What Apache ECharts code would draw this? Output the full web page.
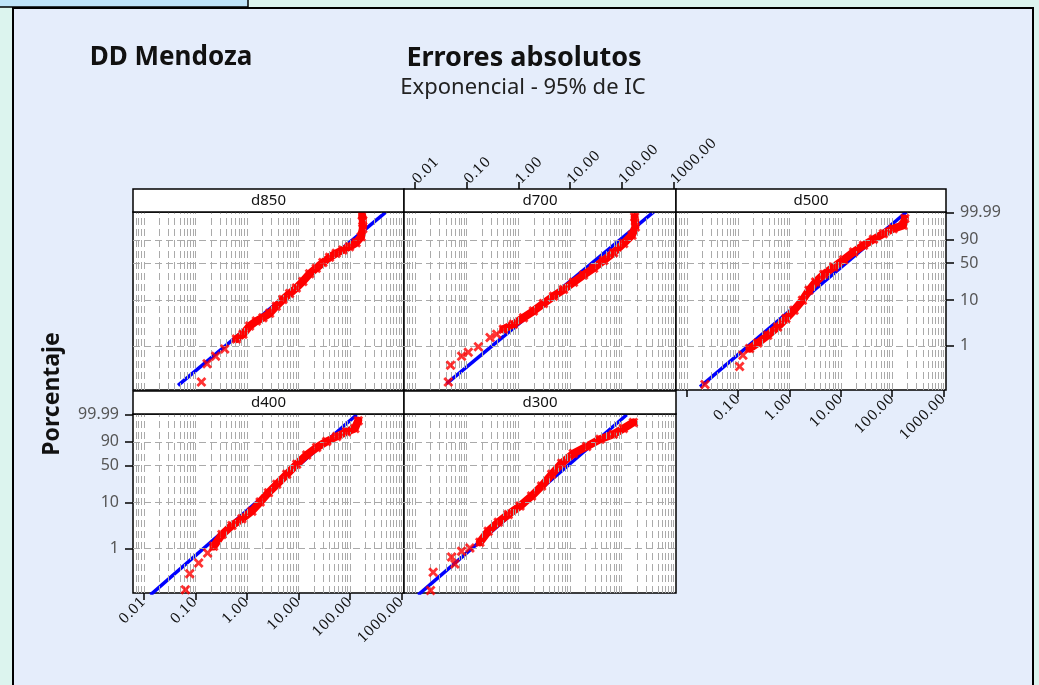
<!DOCTYPE html>
<html>
<head>
<meta charset="utf-8">
<script src="https://cdn.jsdelivr.net/npm/echarts@6/dist/echarts.min.js"></script>
<style>
html, body { margin: 0; padding: 0; background: #dcf4ee; }
#main { width: 1039px; height: 685px; }
</style>
</head>
<body>
<div id="main"></div>
<script>
// paneles
var panelNames = ['d850', 'd700', 'd500', 'd400', 'd300'];

// marcas de los ejes
var xTicks = [0.01, 0.1, 1, 10, 100, 1000];
var yTicks = [1, 10, 50, 90, 99.99];

// puntos: [error absoluto, porcentaje]
var d850Pts = [
    [0.131, 0.157], [0.169, 0.40], [0.248, 0.59], [0.372, 0.85], [0.625, 1.41], [0.841, 1.81],
    [1.13, 2.75], [1.53, 3.53], [2.05, 4.17], [2.77, 5.17], [3.72, 7.40], [5.01, 10.2],
    [6.75, 13.6], [9.10, 17.7], [12.2, 23.9], [16.5, 33.2], [22.2, 41.6], [29.9, 51.1],
    [40.3, 60.9], [54.2, 68.4], [72.9, 74.4], [98.2, 80.1], [132, 86.2], [165, 93.1],
    [178, 98.3], [178, 99.80], [173, 99.968]
];
var d700Pts = [
    [0.0443, 0.157], [0.0491, 0.37], [0.0802, 0.59], [0.108, 0.72], [0.169, 0.96], [0.284, 1.53],
    [0.383, 1.81], [0.515, 2.33], [0.805, 2.99], [1.26, 4.17], [1.96, 5.80], [3.07, 8.43],
    [4.80, 12.0], [7.50, 16.4], [11.7, 22.9], [18.3, 31.4], [28.6, 41.6], [44.7, 54.8],
    [69.8, 69.6], [109, 85.2], [158, 94.6], [184, 98.83], [178, 99.94]
];
var d500Pts = [
    [0.0226, 0.139], [0.107, 0.35], [0.124, 0.62], [0.167, 0.87], [0.242, 1.16], [0.378, 1.71],
    [0.589, 2.61], [0.853, 3.98], [1.23, 6.03], [1.79, 9.86], [2.40, 15.9], [3.24, 23.3],
    [4.69, 32.5], [7.31, 43.5], [11.4, 56.5], [17.8, 70.8], [27.7, 82.3], [43.3, 90.5],
    [67.5, 95.7], [105, 98.3], [164, 99.19], [177, 99.89]
];
var d400Pts = [
    [0.064, 0.123], [0.0776, 0.28], [0.116, 0.48], [0.173, 0.80], [0.226, 1.12], [0.328, 2.03],
    [0.513, 3.20], [0.80, 4.47], [1.25, 6.55], [1.81, 10.2], [2.62, 15.9], [3.81, 23.3],
    [5.94, 35.7], [9.29, 52.2], [14.5, 69.5], [22.6, 82.3], [35.3, 90.5], [55.2, 95.2],
    [86.1, 97.9], [125, 98.96], [145, 99.89]
];
var d300Pts = [
    [0.0201, 0.119], [0.0226, 0.30], [0.0513, 0.65], [0.0594, 0.46], [0.080, 0.87], [0.116, 1.03],
    [0.181, 1.38], [0.262, 2.40], [0.410, 3.78], [0.640, 5.55], [1.08, 8.38], [1.81, 13.6],
    [2.83, 21.6], [4.42, 35.7], [6.90, 54.0], [11.6, 72.0], [21.0, 83.8], [38.1, 92.9],
    [69.0, 96.7], [108, 98.96], [168, 99.80]
];

// recta exponencial ajustada (extremos leidos)
var d850Fit = [[0.0462, 0.133], [505, 99.993]];
var d700Fit = [[0.0411, 0.145], [416, 99.993]];
var d500Fit = [[0.0181, 0.123], [190, 99.993]];
var d400Fit = [[0.01346, 0.095], [135, 99.99]];
var d300Fit = [[0.0116, 0.095], [125, 99.99]];

var chart = echarts.init(document.getElementById('main'));

// escala log en x, escala exponencial (log(-ln(1-p))) en y
function tx(v) { return Math.log10(v); }
function ty(p) { return Math.log10(-Math.log(1 - p / 100)); }
function toXY(d) { return [tx(d[0]), ty(d[1])]; }

function xLabel(v) { return Math.pow(10, v).toFixed(2); }
function yLabel(v) {
    var best = 0;
    for (var i = 1; i < yTicks.length; i++) {
        if (Math.abs(ty(yTicks[i]) - v) < Math.abs(ty(yTicks[best]) - v)) best = i;
    }
    return String(yTicks[best]);
}

// lineas de rejilla: 1..9 por decada
var xGrid = [];
for (var k = -3; k <= 3; k++) {
    for (var m = 1; m <= 9; m++) {
        var g = m * Math.pow(10, k);
        if (tx(g) > -2.21 && tx(g) < 3.05) xGrid.push(g);
    }
}

var panels = [
    { pts: d850Pts, fit: d850Fit, band: 4, left: 133, top: 212, width: 271, height: 178 },
    { pts: d700Pts, fit: d700Fit, band: 7, left: 404, top: 212, width: 272, height: 178, xTop: true },
    { pts: d500Pts, fit: d500Fit, band: 3, left: 676, top: 212, width: 270, height: 178, xBottom: true, yRight: true },
    { pts: d400Pts, fit: d400Fit, band: 4, left: 133, top: 414, width: 271, height: 179, xBottom: true, yLeft: true },
    { pts: d300Pts, fit: d300Fit, band: 6, left: 404, top: 414, width: 272, height: 179 }
];

var xMin = -2.21, xMax = 3.05, yMin = -2.98, yMax = 0.98;
var tickStyle = { color: '#000', width: 1.5 };
var crossPath = 'path://M0,2L2,0L5,3L8,0L10,2L7,5L10,8L8,10L5,7L2,10L0,8L3,5Z';

var grids = [], xAxes = [], yAxes = [], series = [], graphics = [];

// marco y titulos
graphics.push({ type: 'rect', z: -10, shape: { x: 13, y: 8, width: 1020, height: 700 },
    style: { fill: '#e5edfb', stroke: '#000', lineWidth: 2 } });
graphics.push({ type: 'rect', z: -10, shape: { x: -2, y: -2, width: 250, height: 9 },
    style: { fill: '#bfe3f8', stroke: '#000', lineWidth: 1.5 } });
graphics.push({ type: 'text', z: 10, x: 171, y: 58,
    style: { text: 'DD Mendoza', font: 'bold 26px "Noto Sans"', fill: '#111', align: 'center', verticalAlign: 'middle' } });
graphics.push({ type: 'text', z: 10, x: 524, y: 58,
    style: { text: 'Errores absolutos', font: 'bold 27px "Noto Sans"', fill: '#111', align: 'center', verticalAlign: 'middle' } });
graphics.push({ type: 'text', z: 10, x: 523, y: 88,
    style: { text: 'Exponencial - 95% de IC', font: '22px "Noto Sans"', fill: '#222', align: 'center', verticalAlign: 'middle' } });
graphics.push({ type: 'text', z: 10, x: 52, y: 394, rotation: Math.PI / 2,
    style: { text: 'Porcentaje', font: 'bold 23px "Noto Sans"', fill: '#111', align: 'center', verticalAlign: 'middle' } });

panels.forEach(function (p, i) {
    grids.push({
        left: p.left, top: p.top, width: p.width, height: p.height,
        show: true, backgroundColor: '#fff', borderColor: '#000', borderWidth: 1.5,
        outerBoundsMode: 'none'
    });
    // cabecera del panel
    graphics.push({ type: 'rect', z: 10, shape: { x: p.left, y: p.top - 23, width: p.width, height: 23 },
        style: { fill: '#fff', stroke: '#000', lineWidth: 1.5 } });
    graphics.push({ type: 'text', z: 11, x: p.left + p.width / 2, y: p.top - 11.5,
        style: { text: panelNames[i], font: '15px "Noto Sans"', fill: '#111', align: 'center', verticalAlign: 'middle' } });

    var showX = !!(p.xTop || p.xBottom);
    xAxes.push({
        gridIndex: i, type: 'value', min: xMin, max: xMax,
        position: p.xTop ? 'top' : 'bottom', offset: p.xTop ? 23 : 0,
        axisLine: { show: false, onZero: false }, splitLine: { show: false },
        axisTick: { show: showX, length: 7, lineStyle: tickStyle, customValues: xTicks.map(tx) },
        axisLabel: {
            show: showX,
            customValues: (p.xBottom && p.yRight ? xTicks.slice(1) : xTicks).map(tx),
            rotate: p.xTop ? -45 : 45, margin: 7, formatter: xLabel,
            fontFamily: 'DejaVu Serif', fontSize: 14, color: '#111'
        }
    });
    var showY = !!(p.yLeft || p.yRight);
    yAxes.push({
        gridIndex: i, type: 'value', min: yMin, max: yMax,
        position: p.yRight ? 'right' : 'left',
        axisLine: { show: false, onZero: false }, splitLine: { show: false },
        axisTick: { show: showY, length: 8, lineStyle: tickStyle, customValues: yTicks.map(ty) },
        axisLabel: { show: showY, customValues: yTicks.map(ty), formatter: yLabel,
            fontFamily: 'Noto Sans', fontSize: 16, color: '#555', margin: 14 }
    });

    // rejilla punteada
    series.push({
        type: 'line', xAxisIndex: i, yAxisIndex: i, data: [], z: 1, silent: true,
        markLine: {
            silent: true, symbol: ['none', 'none'], label: { show: false }, animation: false,
            lineStyle: { color: '#aaaaaa', type: [7, 4], width: 1 },
            data: xGrid.map(function (v) { return { xAxis: tx(v) }; })
                .concat(yTicks.slice(0, 4).map(function (v) { return { yAxis: ty(v) }; }))
        }
    });
    // ajuste
    series.push({
        type: 'line', xAxisIndex: i, yAxisIndex: i, z: 3, showSymbol: false, silent: true,
        data: p.fit.map(toXY), lineStyle: { color: '#0000ff', width: 3.5 }
    });
    // banda densa de datos
    series.push({
        type: 'line', xAxisIndex: i, yAxisIndex: i, z: 4, showSymbol: false, silent: true,
        data: p.pts.slice(p.band).map(toXY), lineStyle: { color: '#ff0000', width: 8, join: 'round', cap: 'round' }
    });
    // datos
    series.push({
        type: 'scatter', xAxisIndex: i, yAxisIndex: i, z: 5, silent: true,
        symbol: crossPath, symbolSize: 10,
        data: p.pts.map(toXY), itemStyle: { color: '#ff0000' }
    });
});

chart.setOption({
    animation: false,
    grid: grids,
    xAxis: xAxes,
    yAxis: yAxes,
    series: series,
    graphic: { elements: graphics }
});
</script>
</body>
</html>
